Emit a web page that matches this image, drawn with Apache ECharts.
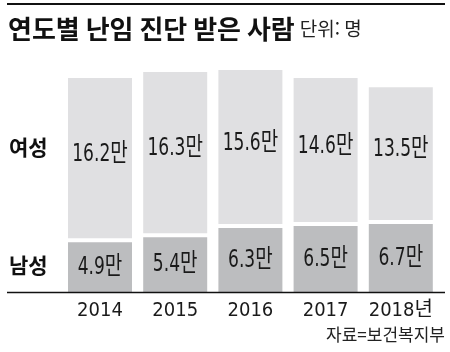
<!DOCTYPE html>
<html lang="ko" style="height: 100%;margin: 0;background-color: #fff;">
<head>
    <meta charset="UTF-8">
    <title>chart</title>
</head>
<body style="height: 100%;margin: 0;background-color: #fff;">
<div id="chart" style="width: 450px;height: 352px;margin: 0;"></div>
<script src="https://cdn.jsdelivr.net/npm/echarts@6/dist/echarts.min.js"></script>
<script>
    var years = ["2014", "2015", "2016", "2017", "2018년"];
    var male = [4.9, 5.4, 6.3, 6.5, 6.7];
    var female = [16.2, 16.3, 15.6, 14.6, 13.5];

    var narrow = '"DejaVu Sans Condensed", "Noto Sans CJK KR", sans-serif';
    var kr = '"Noto Sans CJK KR", sans-serif';
    var barW = 64;
    var gap = 4;

    var myChart = echarts.init(document.getElementById("chart"), null, {renderer: 'canvas'});

    var maleData = [], femaleData = [];
    for (var i = 0; i < years.length; i++) {
        maleData.push([i, 0, male[i]]);
        femaleData.push([i, male[i], female[i]]);
    }

    function valueLabel(cx, cy, v) {
        return {
            type: 'text',
            x: cx,
            y: cy,
            scaleX: 0.76,
            style: {
                text: v.toFixed(1) + '만',
                fill: '#1a1a1a',
                font: '25px ' + narrow,
                align: 'center',
                verticalAlign: 'middle'
            }
        };
    }

    // value(1) = 아래 시작값, value(2) = 막대 값. 위쪽 막대는 간격을 둔다
    function makeRender(color, g, dy) {
        return function (params, api) {
            var idx = api.value(0);
            var start = api.value(1);
            var base = api.coord([idx, start]);
            var top = api.coord([idx, start + api.value(2)]);
            var h = base[1] - g - top[1];
            return {
                type: 'group',
                children: [{
                    type: 'rect',
                    shape: {x: base[0] - barW / 2, y: top[1], width: barW, height: h},
                    style: {fill: color}
                }, valueLabel(base[0], top[1] + h / 2 + dy, api.value(2))]
            };
        };
    }

    var option = {
        animation: false,
        backgroundColor: '#fff',
        title: {
            left: 3,
            top: 8,
            text: '{a|연도별 난임 진단 받은 사람} {b|단위: 명}',
            textStyle: {
                rich: {
                    a: {fontFamily: kr, fontSize: 26, fontWeight: 'bold', color: '#111', lineHeight: 32},
                    b: {fontFamily: kr, fontSize: 19, fontWeight: 'normal', color: '#222', lineHeight: 32}
                }
            }
        },
        grid: {
            left: 62.4,
            right: 11.6,
            top: 38.5,
            bottom: 60
        },
        xAxis: {
            type: 'category',
            data: years,
            axisLine: {show: false},
            axisTick: {show: false},
            axisLabel: {
                interval: 0,
                margin: 9,
                fontSize: 20,
                fontFamily: narrow,
                color: '#1a1a1a'
            }
        },
        yAxis: {
            type: 'value',
            min: 0,
            max: 25,
            show: false
        },
        graphic: [
            {type: 'line', shape: {x1: 7, y1: 4, x2: 445, y2: 4}, style: {stroke: '#111', lineWidth: 2}},
            {type: 'line', shape: {x1: 7, y1: 292.5, x2: 445, y2: 292.5}, style: {stroke: '#111', lineWidth: 1.5}, z: 10},
            {type: 'text', left: 9, top: 137, style: {text: '여성', font: 'bold 21px ' + kr, fill: '#111'}},
            {type: 'text', left: 9, top: 255, style: {text: '남성', font: 'bold 21px ' + kr, fill: '#111'}},
            {type: 'text', right: 5, top: 326, style: {text: '자료=보건복지부', font: '17px ' + kr, fill: '#222'}}
        ],
        series: [{
            name: '남성',
            type: 'custom',
            data: maleData,
            renderItem: makeRender('#bcbdbf', 0, 0)
        }, {
            name: '여성',
            type: 'custom',
            data: femaleData,
            renderItem: makeRender('#e0e0e2', gap, -4)
        }]
    };
    myChart.setOption(option, true);
</script>
</body>
</html>
